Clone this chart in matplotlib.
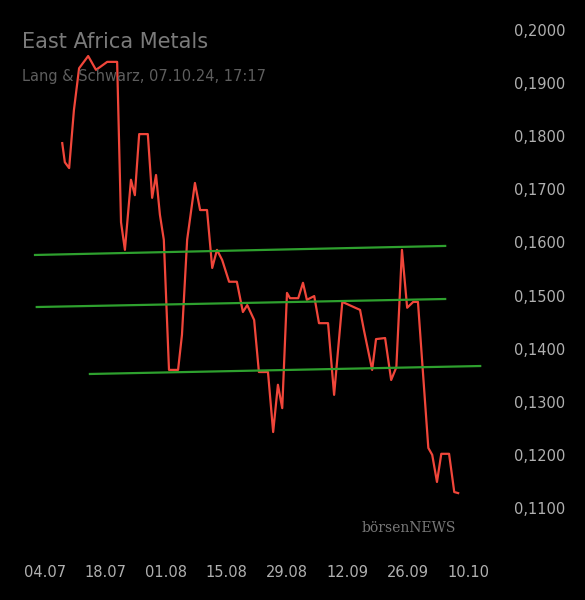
import matplotlib
matplotlib.use("Agg")
import matplotlib.pyplot as plt

days = [4,4.6,5.6,6.7,7.9,9.0,10.0,10.9,11.8,12.7,14.4,16.7,17.6,18.5,19.9,20.8,21.8,23.8,24.8,25.7,26.6,27.5,28.7,30.8,31.7,32.9,34.7,35.9,37.5,38.7,39.8,41.0,42.6,44.4,45.8,46.8,48.4,49.5,51.6,52.8,53.9,54.9,56.0,56.7,58.6,59.7,60.6,62.3,63.4,65.5,66.9,68.8,69.9,71.8,72.9,73.8,75.7,76.6,78.7,80.1,81.3,82.6,83.8,85.2,86.3,87.5,88.7,89.6,90.7,91.7,93.5,94.7,95.6]
prices = [0.1787,0.1751,0.1740,0.1849,0.1928,0.1940,0.1951,0.1938,0.1925,0.1930,0.1940,0.1940,0.1638,0.1586,0.1718,0.1689,0.1804,0.1804,0.1684,0.1727,0.1652,0.1605,0.1360,0.1360,0.1426,0.1605,0.1712,0.1661,0.1661,0.1552,0.1586,0.1567,0.1526,0.1526,0.1469,0.1482,0.1454,0.1356,0.1356,0.1243,0.1332,0.1288,0.1505,0.1495,0.1495,0.1524,0.1492,0.1499,0.1448,0.1448,0.1313,0.1488,0.1484,0.1477,0.1473,0.1435,0.1360,0.1418,0.1420,0.1341,0.1365,0.1586,0.1477,0.1488,0.1488,0.1350,0.1213,0.1200,0.1149,0.1202,0.1202,0.1130,0.1128]
trend_days = [(-2.3,92.6),(-1.9,92.6),(10.4,100.7)]
trend_vals = [(0.15764,0.15934),(0.14784,0.14935),(0.13523,0.13673)]
xtick_days = [0,14,28,42,56,70,84,98]
xtick_labels = ["04.07","18.07","01.08","15.08","29.08","12.09","26.09","10.10"]
ytick_vals = [0.11,0.12,0.13,0.14,0.15,0.16,0.17,0.18,0.19,0.20]
ytick_labels = ["0,1100","0,1200","0,1300","0,1400","0,1500","0,1600","0,1700","0,1800","0,1900","0,2000"]

fig = plt.figure(figsize=(5.85,6.0), dpi=100, facecolor="black")
ax = fig.add_axes([0,0.1,0.86,0.9], facecolor="black")
ax.plot(days, prices, color="#f0463a", lw=1.6)
for d, v in zip(trend_days, trend_vals):
    ax.plot(d, v, color="#2ea02e", lw=1.6)
ax.set_xlim(-10.4,106)
ax.set_ylim(0.10397,0.20565)
for s in ax.spines.values(): s.set_visible(False)
ax.yaxis.tick_right()
ax.set_yticks(ytick_vals, ytick_labels)
ax.set_xticks(xtick_days, xtick_labels)
ax.tick_params(axis="y", length=0, pad=8, labelcolor="#b0b0b0", labelsize=10.5)
ax.tick_params(axis="x", length=0, pad=18, labelcolor="#b0b0b0", labelsize=10.5)
fig.text(22/585, 1-42/600, "East Africa Metals", color="#7a7a7a", fontsize=15, va="center")
fig.text(22/585, 1-76/600, "Lang & Schwarz, 07.10.24, 17:17", color="#5e5e5e", fontsize=10.5, va="center")
fig.text(362/585, 1-528/600, "börsenNEWS", color="#777777", fontsize=10, family="DejaVu Serif", va="center")
fig.savefig("out.png", dpi=100, facecolor="black")
